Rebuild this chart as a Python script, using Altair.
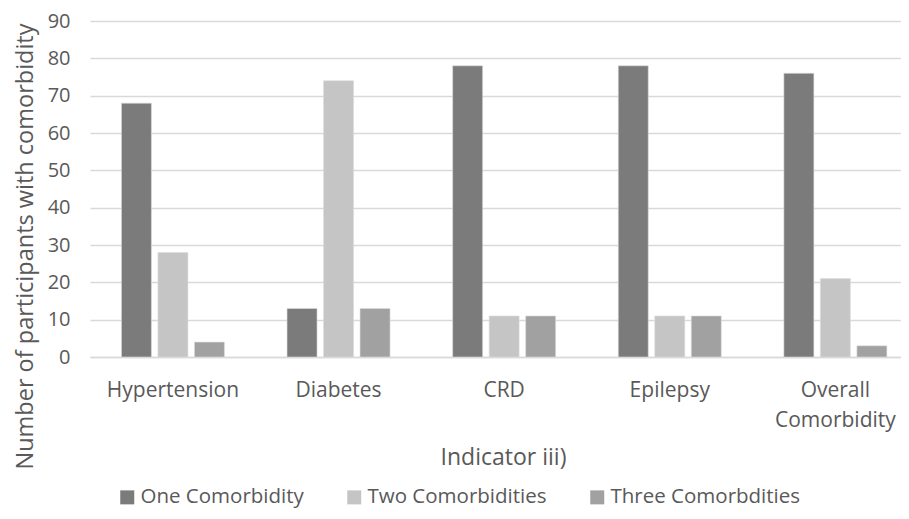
import altair as alt
import pandas as pd

categories = ["Hypertension", "Diabetes", "CRD", "Epilepsy", "Overall Comorbidity"]
series = ["One Comorbidity", "Two Comorbidities", "Three Comorbdities"]
one_vals = [68, 13, 78, 78, 76]
two_vals = [28, 74, 11, 11, 21]
three_vals = [4, 13, 11, 11, 3]
colors = ["#7b7b7b", "#c4c5c4", "#a1a1a1"]
y_ticks = [0, 10, 20, 30, 40, 50, 60, 70, 80, 90]

rows = []
for s, vals in zip(series, [one_vals, two_vals, three_vals]):
    for c, v in zip(categories, vals):
        rows.append({"Indicator": c, "Series": s, "Value": v})
df = pd.DataFrame(rows)

FONT = "Open Sans"
TXT = "#595959"

bars = alt.Chart(df).mark_bar(stroke="#dedede", strokeWidth=0.6).encode(
    x=alt.X("Indicator:N", sort=categories,
            scale=alt.Scale(paddingInner=0.378, paddingOuter=0.1375, align=0.69),
            axis=alt.Axis(title="Indicator iii)", labelAngle=0, ticks=False,
                          domainColor="#d9d9d9", domainWidth=1.5,
                          labelFont=FONT, labelFontSize=21, labelColor=TXT,
                          labelPadding=22, labelBaseline="top", labelLineHeight=30,
                          labelExpr="datum.label == 'Overall Comorbidity' ? ['Overall', 'Comorbidity'] : datum.label",
                          titleFont=FONT, titleFontSize=23, titleFontWeight="normal",
                          titleColor=TXT, titleX=413, titleY=100,
                          titleAlign="center", titleBaseline="middle")),
    xOffset=alt.XOffset("Series:N", sort=series,
                        scale=alt.Scale(paddingInner=0.178, paddingOuter=0)),
    y=alt.Y("Value:Q", scale=alt.Scale(domain=[0, 90], nice=False),
            axis=alt.Axis(title="Number of participants with comorbidity",
                          values=y_ticks, ticks=False, domain=False,
                          gridColor="#d9d9d9", gridWidth=1.5,
                          labelFont=FONT, labelFontSize=20, labelColor=TXT,
                          labelPadding=20,
                          titleFont=FONT, titleFontSize=23.5, titleFontWeight="normal",
                          titleColor=TXT, titleX=-65, titleY=225,
                          titleAlign="center", titleBaseline="middle")),
    color=alt.Color("Series:N", sort=series,
                    scale=alt.Scale(domain=series, range=colors),
                    legend=alt.Legend(title=None, orient="none", legendX=27, legendY=466,
                                      direction="horizontal", columns=3,
                                      symbolType="square", symbolSize=196,
                                      symbolStrokeWidth=0, labelOffset=3,
                                      columnPadding=40, labelLimit=0,
                                      labelFont=FONT, labelFontSize=20.5, labelColor=TXT)),
).properties(
    width=811, height=336,
    autosize=alt.AutoSizeParams(type="none"),
    padding={"left": 82, "top": 13, "right": 0, "bottom": 154},
).configure_view(stroke=None)

chart = bars
chart.save("out.html", embed_options={"renderer": "svg", "actions": False})
